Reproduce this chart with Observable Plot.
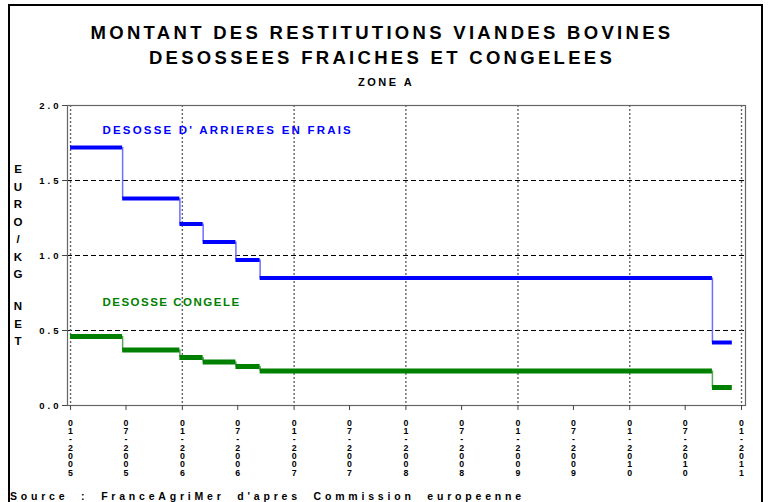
<!DOCTYPE html>
<html>
<head>
<meta charset="utf-8">
<script src="https://cdn.jsdelivr.net/npm/d3@7"></script>
<script src="https://cdn.jsdelivr.net/npm/@observablehq/plot@0.6"></script>
<style>
  body { margin: 0; background: #fff; font-family: "Liberation Sans", Arial, sans-serif; }
  #wrap { position: relative; width: 768px; height: 502px; overflow: hidden; }
  #wrap svg { position: absolute; left: 0; top: 0; }
  .border { position: absolute; left: 8px; top: 4px; width: 755px; height: 520px; border: 2px solid #000; box-sizing: border-box; }
  .t { position: absolute; left: 0; width: 768px; text-align: center; font-weight: bold; color: #000; white-space: nowrap; }
  .ylab { position: absolute; left: 10px; width: 16px; text-align: center; font-weight: bold; font-size: 11.5px; line-height: 17.5px; }
  .src { position: absolute; left: 10px; top: 490px; font-weight: bold; font-size: 10.5px; line-height: 12px; letter-spacing: 3.8px; word-spacing: 6px; white-space: nowrap; }
</style>
</head>
<body>
<div id="wrap">
  <div class="border"></div>
  <div class="t" style="top:24px;left:-2px;font-size:18.5px;line-height:18px;letter-spacing:3.3px;">MONTANT DES RESTITUTIONS VIANDES BOVINES</div>
  <div class="t" style="top:48.5px;left:-2px;font-size:18.5px;line-height:18px;letter-spacing:3.3px;">DESOSSEES FRAICHES ET CONGELEES</div>
  <div class="t" style="top:77px;left:2px;font-size:11px;line-height:11px;letter-spacing:2.5px;">ZONE A</div>
  <div class="ylab" style="top:161px;">E<br>U<br>R<br>O<br>/<br>K<br>G</div>
  <div class="ylab" style="top:298px;">N<br>E<br>T</div>
  <div class="src">Source : FranceAgriMer d'apres Commission europeenne</div>
</div>
<script>
// ---- data ----
const stepDates = ["2005-01-01", "2005-06-20", "2005-12-24", "2006-03-10", "2006-06-25", "2006-09-12", "2010-09-28", "2010-12-02"];
const fraisValues = [1.72, 1.38, 1.21, 1.09, 0.97, 0.85, 0.42];
const congeleValues = [0.46, 0.37, 0.32, 0.29, 0.26, 0.23, 0.12];
const seriesNames = ["DESOSSE D' ARRIERES EN FRAIS", "DESOSSE CONGELE"];
const labelDates = ["2005-04-15", "2005-04-15"];
const labelValues = [1.835, 0.69];
const yTicks = [0.0, 0.5, 1.0, 1.5, 2.0];
const yGrid = [0.5, 1.0, 1.5];
const xTickLabels = ["01-2005", "07-2005", "01-2006", "07-2006", "01-2007", "07-2007", "01-2008", "07-2008", "01-2009", "07-2009", "01-2010", "07-2010", "01-2011"];

// ---- build ----
const parse = s => new Date(s + "T00:00:00Z");
const dates = stepDates.map(parse);
const toDate = lab => { const [m, y] = lab.split("-"); return new Date(Date.UTC(+y, +m - 1, 1)); };
const xTicks = xTickLabels.map(toDate);
const janTicks = xTickLabels.filter(l => l.startsWith("01")).map(toDate);

function segments(values) {
  return values.map((v, i) => ({ x1: dates[i], x2: dates[i + 1], y: v }));
}
function connectors(values) {
  return values.slice(1).map((v, i) => ({ x: dates[i + 1], y1: values[i], y2: v }));
}

const blue = "#0000ff", green = "#008000";

const chart = Plot.plot({
  width: 768,
  height: 502,
  marginLeft: 67,
  marginRight: 23,
  marginTop: 105,
  marginBottom: 97,
  style: { background: "transparent", fontFamily: "Liberation Sans, Arial, sans-serif" },
  x: { type: "utc", domain: [parse("2004-12-22"), parse("2011-01-14")], axis: null },
  y: { domain: [0, 2], axis: null },
  marks: [
    Plot.ruleY(yGrid, { stroke: "#000", strokeDasharray: "5,3", strokeWidth: 1 }),
    Plot.ruleX(janTicks, { stroke: "#666", strokeDasharray: "2,2", strokeWidth: 1.4 }),
    Plot.frame({ stroke: "#666", strokeWidth: 1.2 }),
    Plot.axisY({ ticks: yTicks, tickFormat: d => d.toFixed(1), tickSize: 5, tickPadding: 1, fontSize: 9.5, fontWeight: "bold", label: null, stroke: "#444" }),
    Plot.axisX({ ticks: xTicks, tickSize: 5, tickFormat: () => "", label: null, stroke: "#444" }),
    Plot.text(xTicks, { x: d => d, frameAnchor: "bottom", text: (d, i) => xTickLabels[i].split("").join("\n"), lineAnchor: "top", dy: 14.5, lineHeight: 0.94, fontSize: 8.8, fontWeight: "bold", fill: "#000" }),
    Plot.text([seriesNames[0]], { x: () => parse(labelDates[0]), y: () => labelValues[0], text: d => d, textAnchor: "start", fill: blue, fontSize: 11.5, fontWeight: "bold" }),
    Plot.text([seriesNames[1]], { x: () => parse(labelDates[1]), y: () => labelValues[1], text: d => d, textAnchor: "start", fill: green, fontSize: 11.5, fontWeight: "bold" }),
    Plot.ruleX(connectors(fraisValues), { x: "x", y1: "y1", y2: "y2", stroke: "#6f6fff", strokeWidth: 1.5 }),
    Plot.ruleX(connectors(congeleValues), { x: "x", y1: "y1", y2: "y2", stroke: "#5aa55a", strokeWidth: 1.5 }),
    Plot.ruleY(segments(fraisValues), { x1: "x1", x2: "x2", y: "y", stroke: blue, strokeWidth: 4 }),
    Plot.ruleY(segments(congeleValues), { x1: "x1", x2: "x2", y: "y", stroke: green, strokeWidth: 5 })
  ]
});

const wrap = document.getElementById("wrap");
wrap.insertBefore(chart, wrap.firstChild);
chart.querySelectorAll('g[aria-label="y-axis tick label"] text').forEach(t => t.setAttribute("letter-spacing", "3"));
const textGroups = chart.querySelectorAll('g[aria-label="text"]');
if (textGroups[1]) textGroups[1].setAttribute("letter-spacing", "2.2");
if (textGroups[2]) textGroups[2].setAttribute("letter-spacing", "1.5");
</script>
</body>
</html>
